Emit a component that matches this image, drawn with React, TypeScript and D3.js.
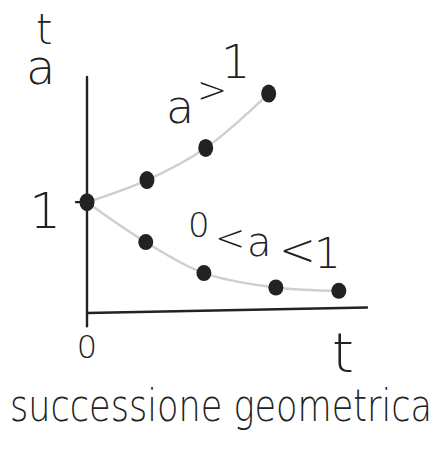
import React from "react";
import * as d3 from "d3";

// Growing sequence a^t with a > 1
const growthT = [0, 1, 1.98, 3.03];
const growthV = [1, 1.2, 1.49, 1.98];

// Decaying sequence a^t with 0 < a < 1
const decayT = [0, 0.98, 1.95, 3.15, 4.2];
const decayV = [1, 0.64, 0.36, 0.23, 0.2];

const yTickLabels = ["1"];
const xTickLabels = ["0"];

const W = 440;
const H = 452;
const INK = "#222";
const FONT = "'DejaVu Sans', 'Lato', sans-serif";

export default function App() {
  const x = d3.scaleLinear().domain([0, 4.67]).range([87, 367]);
  const y = d3.scaleLinear().domain([0, 2.13]).range([313, 77]);

  const line = d3
    .line<[number, number]>()
    .x((d) => x(d[0]))
    .y((d) => y(d[1]))
    .curve(d3.curveCatmullRom.alpha(0.5));

  const growth = growthT.map((t, i) => [t, growthV[i]] as [number, number]);
  const decay = decayT.map((t, i) => [t, decayV[i]] as [number, number]);

  const textStyle = {
    fontFamily: FONT,
    fontWeight: 200 as const,
    fill: INK,
  };

  return (
    <svg
      width={W}
      height={H}
      style={{ position: "absolute", left: 0, top: 0, background: "#fff" }}
    >
      {/* axes */}
      <line
        x1={x(0)}
        x2={x(0)}
        y1={y(-0.12)}
        y2={y(2.13)}
        stroke={INK}
        strokeWidth={2.4}
        strokeLinecap="round"
      />
      <line
        x1={x(0)}
        x2={x(4.67)}
        y1={y(0)}
        y2={y(0.05)}
        stroke={INK}
        strokeWidth={2.4}
        strokeLinecap="round"
      />
      {/* tick at 1 */}
      <line
        x1={x(0) - 11}
        x2={x(0)}
        y1={y(1)}
        y2={y(1)}
        stroke={INK}
        strokeWidth={2.2}
        strokeLinecap="round"
      />

      {/* curves */}
      <path d={line(growth) ?? ""} fill="none" stroke="#cfcfcf" strokeWidth={2.5} />
      <path d={line(decay) ?? ""} fill="none" stroke="#cfcfcf" strokeWidth={2.5} />

      {/* points */}
      {growth.map((d, i) => (
        <ellipse key={"g" + i} cx={x(d[0])} cy={y(d[1])} rx={7.5} ry={9} fill={INK} />
      ))}
      {decay.slice(1).map((d, i) => (
        <ellipse key={"d" + i} cx={x(d[0])} cy={y(d[1])} rx={7.5} ry={8} fill={INK} />
      ))}

      {/* y-axis title a^t */}
      <text x={26} y={84} fontSize={48} style={textStyle}>
        a
      </text>
      <text x={36} y={44} fontSize={42} style={textStyle}>
        t
      </text>

      {/* tick labels */}
      {yTickLabels.map((s) => (
        <text key={s} x={x(0) - 26} y={y(1) + 26} fontSize={50} textAnchor="end" style={textStyle}>
          {s}
        </text>
      ))}
      {xTickLabels.map((s) => (
        <text key={s} x={x(0)} y={358} fontSize={32} textAnchor="middle" style={textStyle}>
          {s}
        </text>
      ))}
      <text x={343} y={372} fontSize={56} textAnchor="middle" style={textStyle}>
        t
      </text>

      {/* curve labels */}
      <text fontSize={46} style={textStyle}>
        <tspan x={166} y={123}>a</tspan>
        <tspan x={197} y={102} fontSize={36}>&gt;</tspan>
        <tspan x={221} y={78}>1</tspan>
      </text>
      <text fontSize={34} style={textStyle}>
        <tspan x={188} y={237}>0</tspan>
        <tspan x={215} y={250} fontSize={36}>&lt;</tspan>
        <tspan x={247} y={256} fontSize={40}>a</tspan>
        <tspan x={279} y={265} fontSize={44}>&lt;</tspan>
        <tspan x={314} y={268} fontSize={42}>1</tspan>
      </text>

      {/* caption */}
      <text x={10} y={421} fontSize={44} textLength={422} lengthAdjust="spacingAndGlyphs" style={textStyle}>
        successione geometrica
      </text>
    </svg>
  );
}
